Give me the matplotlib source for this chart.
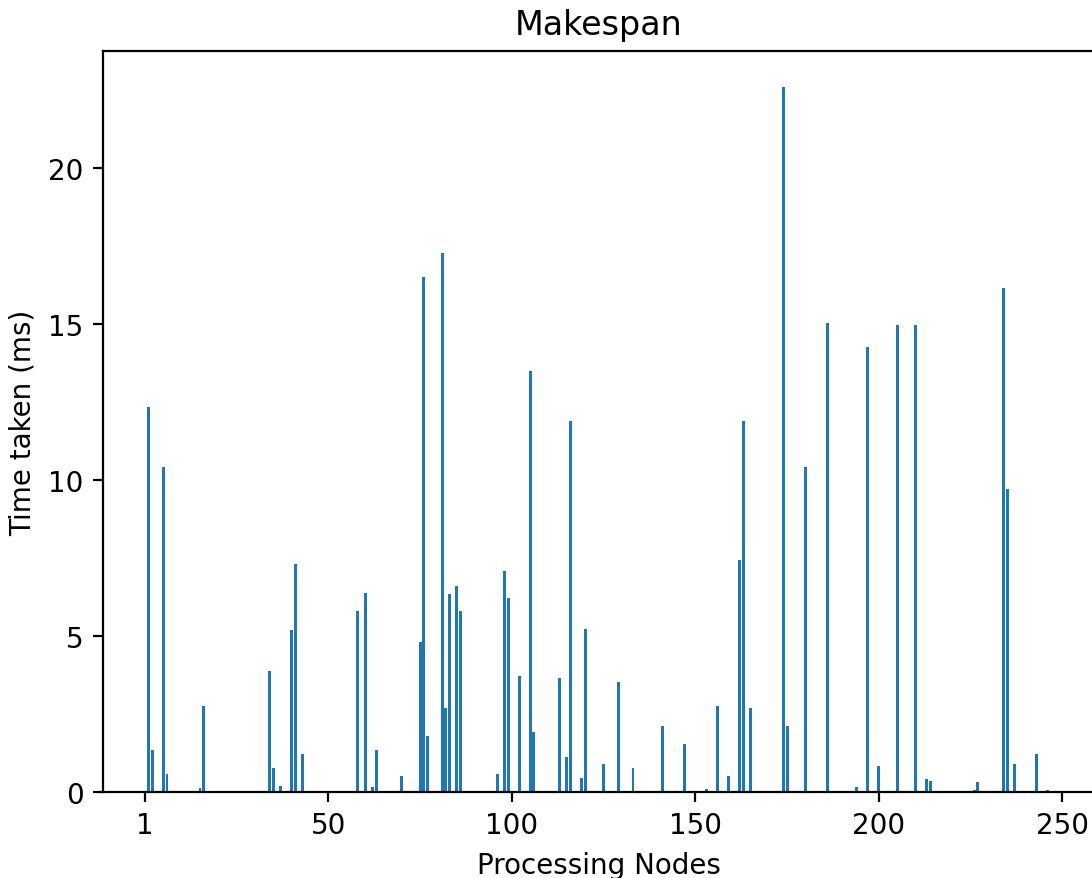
import matplotlib
matplotlib.use("Agg")
import matplotlib.pyplot as plt

# processing nodes that have a non-zero makespan, and the time taken (ms)
nodes = [1, 2, 5, 6, 15, 16, 34, 35, 37, 40, 41, 43,
         58, 60, 62, 63, 70, 75, 76, 77, 81, 82, 83, 85, 86,
         96, 98, 99, 102, 105, 106, 113, 115, 116, 119, 120, 125,
         129, 133, 141, 147, 153, 156, 159, 162, 163, 165,
         174, 175, 180, 186, 194, 197, 200, 205, 210, 213, 214,
         226, 227, 234, 235, 237, 243, 246]
times = [12.33, 1.36, 10.42, 0.58, 0.14, 2.77, 3.87, 0.78, 0.20, 5.20, 7.32, 1.22,
         5.79, 6.37, 0.15, 1.36, 0.52, 4.82, 16.50, 1.80, 17.27, 2.69, 6.35, 6.61, 5.79,
         0.58, 7.07, 6.23, 3.73, 13.49, 1.94, 3.66, 1.11, 11.89, 0.46, 5.22, 0.91,
         3.54, 0.78, 2.13, 1.55, 0.09, 2.77, 0.52, 7.45, 11.89, 2.69,
         22.60, 2.13, 10.42, 15.03, 0.15, 14.26, 0.84, 14.97, 14.97, 0.42, 0.34,
         0.07, 0.33, 16.15, 9.71, 0.91, 1.23, 0.07]

tick_pos = [0, 50, 100, 150, 200, 250]
tick_labels = ["1", "50", "100", "150", "200", "250"]

fig = plt.figure(figsize=(5.46, 4.395), dpi=200)
# the original axes runs slightly past the right edge of the image
ax = fig.add_axes([0.0943, 0.0978, 0.9084, 0.843])

ax.bar(nodes, times, width=0.8, color="#1f77b4")
ax.set_xticks(tick_pos)
ax.set_xticklabels(tick_labels)
ax.set_xlim(-11.44, 258.9)
ax.set_ylim(0, 23.75)

ax.set_title("Makespan")
ax.set_xlabel("Processing Nodes")
ax.set_ylabel("Time taken (ms)")

fig.savefig("out.png", dpi=200)
